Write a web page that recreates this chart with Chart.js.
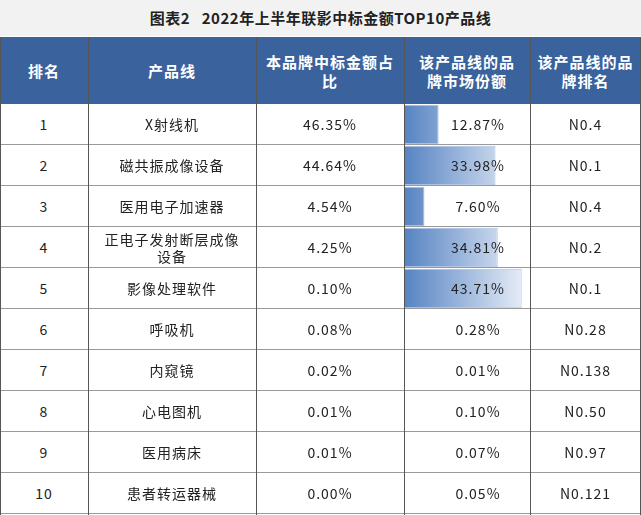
<!DOCTYPE html>
<html><head><meta charset="utf-8">
<script src="https://cdn.jsdelivr.net/npm/chart.js"></script>
<style>
body{margin:0;width:641px;height:515px;background:#fff;font-family:"Noto Sans CJK SC",sans-serif;overflow:hidden;position:relative}
#title{position:absolute;left:0;top:0;width:641px;height:36px;background:#f2f2f2;text-align:center;line-height:36px;font-size:15px;font-weight:bold;color:#222;letter-spacing:0.5px}
.c{position:absolute;display:flex;align-items:center;justify-content:center;text-align:center;box-sizing:border-box;font-size:14px;color:#222;line-height:17px;letter-spacing:1px}
.h{background:#3a629c;color:#fff;font-weight:bold;font-size:15px;line-height:19px}
#cw{position:absolute;left:404px;top:104px;width:126px;height:410px}
.hl{position:absolute;left:0;width:641px;height:1px;background:#9a9a9a}
.vl{position:absolute;top:37px;height:478px;width:1px;background:#555}
</style></head><body>
<div id="title">图表2&nbsp;&nbsp;&nbsp;2022年上半年联影中标金额TOP10产品线</div>
<div id="cw"><canvas id="cv"></canvas></div>
<div id="grid"></div>
<script>
const ranks=["1","2","3","4","5","6","7","8","9","10"];
const lines=["X射线机","磁共振成像设备","医用电子加速器","正电子发射断层成像设备","影像处理软件","呼吸机","内窥镜","心电图机","医用病床","患者转运器械"];
const share=["46.35%","44.64%","4.54%","4.25%","0.10%","0.08%","0.02%","0.01%","0.01%","0.00%"];
const market=[12.87,33.98,7.60,34.81,43.71,0.28,0.01,0.10,0.07,0.05];
const brandRank=["N0.4","N0.1","N0.4","N0.2","N0.1","N0.28","N0.138","N0.50","N0.97","N0.121"];
const headers=[["排名"],["产品线"],["本品牌中标金额占","比"],["该产品线的品","牌市场份额"],["该产品线的品","牌排名"]];

const xs=[0,88,256,404,530,641];
const top0=37,hh=67,rh=41;
const g=document.getElementById('grid');
function cell(i,y,h,parts,cls,pad){const d=document.createElement('div');d.className='c '+(cls||'');d.style.left=xs[i]+'px';d.style.top=y+'px';d.style.width=(xs[i+1]-xs[i])+'px';d.style.height=h+'px';if(pad)d.style.padding=pad;
 const s=document.createElement('span');[].concat(parts).forEach((p,k)=>{if(k)s.appendChild(document.createElement('br'));s.appendChild(document.createTextNode(p));});d.appendChild(s);g.appendChild(d);}
headers.forEach((t,i)=>cell(i,top0,hh,t,'h'));
for(let r=0;r<10;r++){const y=top0+hh+r*rh;
 cell(0,y,rh,ranks[r]);cell(1,y,rh,lines[r],'','0 12px');cell(2,y,rh,share[r]);
 cell(3,y,rh,market[r].toFixed(2)+'%','','0 0 0 22px');cell(4,y,rh,brandRank[r]);
 const l=document.createElement('div');l.className='hl';l.style.top=(y+rh-1)+'px';g.appendChild(l);}
xs.forEach((x,i)=>{const v=document.createElement('div');v.className='vl';v.style.left=(i==5?640:x)+'px';g.appendChild(v);});

new Chart(document.getElementById('cv'),{type:'bar',data:{labels:lines,datasets:[{data:market,
 backgroundColor:(c)=>{const a=c.chart.chartArea;if(!a)return '#5b87c5';const el=c.element;const x0=a.left,x1=el&&el.x?el.x:a.right;const gr=c.chart.ctx.createLinearGradient(x0,0,Math.max(x1,x0+1),0);gr.addColorStop(0,'#5683c2');gr.addColorStop(1,'#eef3fa');return gr;},
 borderColor:'#a9c0e2',borderWidth:1,borderSkipped:false,barPercentage:0.96,categoryPercentage:1}]},
 options:{indexAxis:'y',responsive:true,maintainAspectRatio:false,animation:false,layout:{padding:0},
 plugins:{legend:{display:false},tooltip:{enabled:false}},
 scales:{x:{display:false,min:0,max:46.8},y:{display:false}}}});
</script></body></html>
